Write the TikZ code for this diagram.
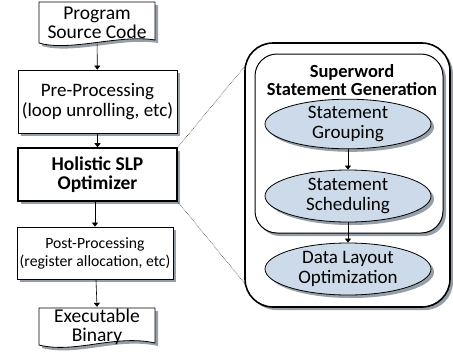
\documentclass[tikz,border=0pt]{standalone}
\usepackage{fontspec}
\setmainfont{Carlito}
\usetikzlibrary{shapes.geometric,shadows,arrows.meta}
\definecolor{shadowgray}{RGB}{150,158,168}
\definecolor{ellfill}{RGB}{205,218,233}
\tikzset{
  shad/.style={drop shadow={shadow xshift=3pt,shadow yshift=-3pt,fill=shadowgray,opacity=1}},
  procbox/.style={draw,fill=white,shad,inner sep=0pt,align=center,line width=0.8pt},
  ell/.style={ellipse,draw,fill=ellfill,shad,inner sep=0pt,align=center,line width=0.8pt,font=\fontsize{19}{19.5}\selectfont,minimum width=166pt},
  conn/.style={-{Triangle[length=4pt,width=6pt]},line width=0.6pt},
  zoomline/.style={densely dotted,line width=0.5pt}
}
\begin{document}
\begin{tikzpicture}[x=1pt,y=-1pt]
\useasboundingbox (0,0) rectangle (453,360);
% document shapes
\fill[shadowgray] (42,5) -- (158,5) -- (158,43) .. controls (123,37) and (73,55) .. (42,46) -- cycle;
\draw[fill=white,line width=0.8pt] (39,2) -- (155,2) -- (155,40) .. controls (120,34) and (70,52) .. (39,43) -- cycle;
\node[inner sep=0pt,minimum width=116pt,minimum height=42pt,align=center,font=\fontsize{19.5}{19.5}\selectfont] (src) at (97,23) {Program\\Source Code};
\fill[shadowgray] (42,311) -- (158,311) -- (158,346) .. controls (118,337) and (78,357) .. (42,348) -- cycle;
\draw[fill=white,line width=0.8pt] (39,308) -- (155,308) -- (155,343) .. controls (115,334) and (75,354) .. (39,345) -- cycle;
\node[inner sep=0pt,minimum width=116pt,minimum height=40pt,align=center,font=\fontsize{19.5}{19.5}\selectfont] (exe) at (97,327) {Executable\\Binary};
% left boxes
\node[procbox,minimum width=159pt,minimum height=63pt,font=\fontsize{19}{19.5}\selectfont] (pre) at (97.5,101.5) {Pre-Processing\\(loop unrolling, etc)};
\node[procbox,minimum width=159pt,minimum height=53pt,line width=1.6pt,font=\bfseries\fontsize{19.5}{19.5}\selectfont] (hol) at (97.5,174.5) {Holistic SLP\\Optimizer};
\node[procbox,minimum width=156pt,minimum height=52pt,font=\fontsize{15.7}{18}\selectfont] (post) at (95,253) {Post-Processing\\(register allocation, etc)};
\draw[conn] (src) -- (pre);
\draw[conn] (pre) -- (hol);
\draw[conn] (hol.south -| post) -- (post);
\draw[conn] (post) -- (exe.north);
% right side
\draw[fill=white,line width=1.6pt,rounded corners=28pt,shad] (245,43) rectangle (450,307);
\draw[fill=white,line width=1pt,rounded corners=22pt,shad] (255,54) rectangle (443,233);
\node[align=center,font=\bfseries\fontsize{18.5}{18.5}\selectfont,inner sep=0pt] (title) at (352,80) {Superword\\Statement Generation};
\node[ell,minimum height=45pt] (e1) at (348,124) {Statement\\Grouping};
\node[ell,minimum height=52pt] (e2) at (348,196) {Statement\\Scheduling};
\node[ell,minimum height=52pt] (e3) at (348,269) {Data Layout\\Optimization};
\draw[conn] (e1) -- (e2);
\draw[conn] (e2) -- (e3);
\coordinate (zt) at (245,66);
\coordinate (zb) at (246,285);
\draw[zoomline] (hol.north east) -- (zt);
\draw[zoomline] (hol.south east) -- (zb);
\end{tikzpicture}
\end{document}
